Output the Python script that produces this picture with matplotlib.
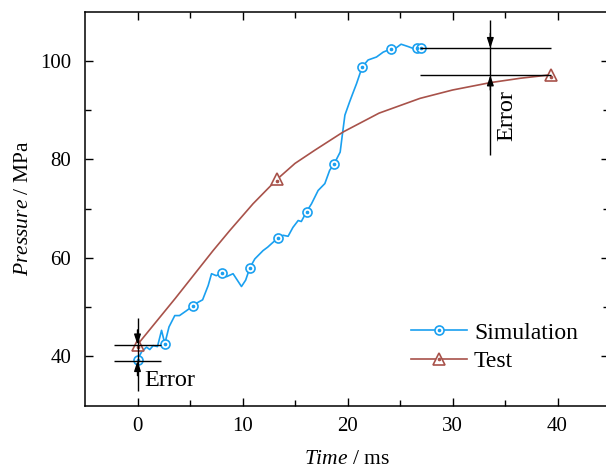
import matplotlib
matplotlib.use("Agg")
import matplotlib.pyplot as plt
from matplotlib.lines import Line2D
from matplotlib.legend_handler import HandlerTuple

plt.rcParams['font.family'] = ['Liberation Serif', 'DejaVu Serif']
plt.rcParams['mathtext.fontset'] = 'custom'
plt.rcParams['mathtext.it'] = 'Liberation Serif:italic'
plt.rcParams['mathtext.rm'] = 'Liberation Serif'

# ---- data ----
sim_t = [0.0, 0.38, 0.86, 1.17, 1.49, 1.9, 2.29, 2.6, 3.0, 3.55, 4.0, 4.67, 5.3, 5.77,
         6.2, 6.73, 7.05, 7.5, 8.0, 8.48, 9.1, 9.5, 9.9, 10.3, 10.7, 11.17, 11.96, 12.4,
         12.76, 13.4, 13.87, 14.34, 14.8, 15.3, 15.6, 16.1, 16.57, 17.2, 17.84, 18.3,
         18.7, 19.3, 19.5, 19.75, 20.2, 20.5, 20.86, 21.4, 21.96, 22.76, 23.4, 24.1,
         24.6, 25.1, 25.8, 26.3, 26.6, 27.0]
sim_p = [39.3, 40.9, 41.9, 41.4, 42.2, 42.0, 45.3, 42.6, 46.0, 48.3, 48.3, 49.3, 50.3, 51.0,
         51.5, 54.4, 56.8, 56.4, 56.9, 56.2, 56.8, 55.5, 54.2, 55.5, 58.0, 59.8, 61.5, 62.2,
         62.9, 64.1, 64.6, 64.4, 66.2, 67.6, 67.4, 69.4, 71.0, 73.7, 75.1, 77.8,
         79.0, 81.5, 84.9, 89.0, 91.7, 93.4, 95.4, 98.8, 100.2, 100.8, 101.8, 102.4,
         102.6, 103.4, 102.9, 102.5, 102.6, 102.6]
sim_marker_t = [0.0, 2.6, 5.3, 8.0, 10.7, 13.4, 16.1, 18.7, 21.4, 24.1, 26.6, 27.0]

test_t = [0.0, 3.6, 7.2, 8.8, 11.0, 13.3, 15.0, 16.9, 19.6, 23.0, 26.9, 30.0, 33.6, 36.5, 39.4]
test_p = [42.4, 51.8, 61.5, 65.6, 71.0, 76.0, 79.2, 81.9, 85.6, 89.4, 92.4, 94.1, 95.6, 96.5, 97.2]
test_marker_t = [0.0, 13.3, 39.4]

# error annotations
err1_x = 0.0
err1_hi, err1_lo = 42.4, 39.1
err1_span = (-2.2, 2.2)
err2_x = 33.6
err2_hi, err2_lo = 102.6, 97.1
err2_span = (26.9, 39.4)

x_ticks = [0, 10, 20, 30, 40]
y_ticks = [40, 60, 80, 100]

blue = '#1AA0F0'
brown = '#A8524A'

fig = plt.figure(figsize=(6.06, 4.72), dpi=100)
ax = fig.add_axes([85 / 606, (472 - 405.7) / 472, 524 / 606, 394 / 472])

ax.plot(sim_t, sim_p, color=blue, lw=1.2, zorder=3)
sim_mp = [sim_p[sim_t.index(t)] for t in sim_marker_t]
ax.plot(sim_marker_t, sim_mp, ls='none', marker='o', ms=6.5, mfc='white', mec=blue, mew=1.2, zorder=4)
ax.plot(sim_marker_t, sim_mp, ls='none', marker='o', ms=1.6, mfc=blue, mec=blue, zorder=5)

ax.plot(test_t, test_p, color=brown, lw=1.2, zorder=3)
test_mp = [test_p[test_t.index(t)] for t in test_marker_t]
ax.plot(test_marker_t, test_mp, ls='none', marker='^', ms=8, mfc='white', mec=brown, mew=1.2, zorder=4)
ax.plot(test_marker_t, [v - 0.4 for v in test_mp], ls='none', marker='o', ms=1.6, mfc=brown, mec=brown, zorder=5)


def error_mark(x, hi, lo, span, top, bottom):
    ax.hlines([hi, lo], span[0], span[1], color='black', lw=1.0, zorder=6)
    ax.vlines(x, bottom, top, color='black', lw=1.0, zorder=6)
    for tip, tail in ((hi, hi + 3.0), (lo, lo - 3.0)):
        ax.annotate('', xy=(x, tip), xytext=(x, tail),
                    arrowprops=dict(arrowstyle='-|>,head_length=0.6,head_width=0.2', color='black', lw=1.0,
                                    mutation_scale=10, shrinkA=0, shrinkB=0), zorder=7)


error_mark(err1_x, err1_hi, err1_lo, err1_span, 47.9, 33.0)
error_mark(err2_x, err2_hi, err2_lo, err2_span, 108.3, 80.9)

ax.text(0.6, 35.2, 'Error', fontsize=17.5, ha='left', va='center')
ax.text(35.2, 88.9, 'Error', fontsize=17.5, ha='center', va='center', rotation=90)

ax.set_xlim(-5, 44.9)
ax.set_ylim(30, 110)
ax.set_xticks(x_ticks)
ax.set_yticks(y_ticks)
ax.set_xticks([5, 15, 25, 35], minor=True)
ax.set_yticks([50, 70, 90], minor=True)
ax.tick_params(which='both', direction='in', top=True, right=True, labelsize=15, width=1.0)
ax.tick_params(which='major', length=6)
ax.tick_params(which='minor', length=4)
ax.tick_params(axis='x', which='major', pad=8)
ax.tick_params(axis='y', which='major', pad=10)
for s in ax.spines.values():
    s.set_linewidth(1.1)
ax.spines['right'].set_visible(False)

ax.set_xlabel(r'$\mathit{Time}$ / ms', fontsize=15.5, labelpad=10)
ax.set_ylabel(r'$\mathit{Pressure}$ / MPa', fontsize=15.5, labelpad=5)

h_sim = (Line2D([], [], color=blue, lw=1.2, marker='o', ms=6.5, mfc='white', mec=blue, mew=1.2),
         Line2D([], [], ls='none', marker='o', ms=1.6, color=blue))
h_test = (Line2D([], [], color=brown, lw=1.2, marker='^', ms=8, mfc='white', mec=brown, mew=1.2),
          Line2D([], [], ls='none', marker='o', ms=1.6, color=brown))
ax.legend([h_sim, h_test], ['Simulation', 'Test'], handler_map={tuple: HandlerTuple(ndivide=1, pad=0)},
          loc='lower left', bbox_to_anchor=(317 / 524, 24 / 394), frameon=False, fontsize=17,
          handlelength=2.35, handletextpad=0.3, labelspacing=0.3, borderaxespad=0)

fig.savefig('out.png', dpi=100)
